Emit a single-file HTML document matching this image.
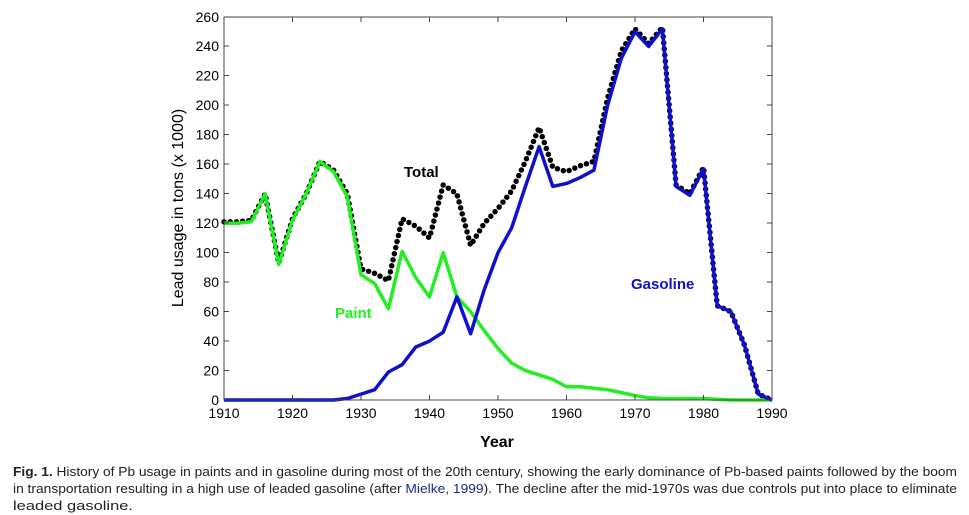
<!DOCTYPE html>
<html><head><meta charset="utf-8"><style>
html,body{margin:0;padding:0;background:#fff;}
svg{display:block;}
</style></head><body>
<svg width="969" height="515" xmlns="http://www.w3.org/2000/svg" font-family="Liberation Sans, Arial, sans-serif">
<rect width="969" height="515" fill="#fff"/>
<g transform="translate(224,400) scale(6.85,-1.473)" fill="none" stroke-linejoin="round">
<polyline vector-effect="non-scaling-stroke" stroke="#000" stroke-width="5.5" stroke-linecap="round" stroke-dasharray="0 6.2" points="0,121 2,121 4,122 6,140 8,93 10,123 12,140 14,162 16,156 18,140 20,89 22,86 24,81 26,123 28,118 30,110 32,146 34,140 36,105 38,120 40,130 42,142 44,162 46,185 48,158 50,155 52,159 54,162 56,205 58,237 60,252 62,242 64,253 66,146 68,140 70,158 72,64 74,60 76,37 78,4 80,0"/>
<polyline vector-effect="non-scaling-stroke" stroke="#22ee22" stroke-width="3.5" points="0,120 2,120 4,121 6,140 8,92 10,122 12,140 14,162 16,155 18,138 20,85 22,79 24,62 26,101 28,83 30,70 32,100 34,70 36,60 38,47 40,35 42,25 44,20 46,17 48,14 50,9 52,9 54,8 56,7 58,5 60,3 62,1.5 64,1 70,1 72,0.5 74,0 80,0"/>
<polyline vector-effect="non-scaling-stroke" stroke="#1010cc" stroke-width="3.5" points="0,0 16,0 18,1 20,4 22,7 24,19 26,24 28,36 30,40 32,46 34,70 36,45 38,75 40,100 42,117 44,145 46,172 48,145 50,147 52,151 54,156 56,200 58,232 60,250 62,240 64,252 66,145 68,139 70,157 72,64 74,60 76,37 78,4 80,0"/>
</g>
<rect x="224" y="17" width="548" height="383" fill="none" stroke="#444" stroke-width="1"/>
<g stroke="#444" stroke-width="1">
<path d="M224,370.5h5M224,341h5M224,311.5h5M224,282h5M224,252.5h5M224,223h5M224,193.5h5M224,164h5M224,134.5h5M224,105h5M224,75.5h5M224,46h5"/>
<path d="M772,370.5h-5M772,341h-5M772,311.5h-5M772,282h-5M772,252.5h-5M772,223h-5M772,193.5h-5M772,164h-5M772,134.5h-5M772,105h-5M772,75.5h-5M772,46h-5"/>
<path d="M292.5,400v-5M361,400v-5M429.5,400v-5M498,400v-5M566.5,400v-5M635,400v-5M703.5,400v-5"/>
<path d="M292.5,17v5M361,17v5M429.5,17v5M498,17v5M566.5,17v5M635,17v5M703.5,17v5"/>
</g>
<g font-size="14" fill="#000" text-anchor="end">
<text x="219" y="405">0</text><text x="219" y="375.5">20</text><text x="219" y="346">40</text><text x="219" y="316.5">60</text><text x="219" y="287">80</text><text x="219" y="257.5">100</text><text x="219" y="228">120</text><text x="219" y="198.5">140</text><text x="219" y="169">160</text><text x="219" y="139.5">180</text><text x="219" y="110">200</text><text x="219" y="80.5">220</text><text x="219" y="51">240</text><text x="219" y="22">260</text>
</g>
<g font-size="14" fill="#000" text-anchor="middle">
<text x="224" y="418">1910</text><text x="292.5" y="418">1920</text><text x="361" y="418">1930</text><text x="429.5" y="418">1940</text><text x="498" y="418">1950</text><text x="566.5" y="418">1960</text><text x="635" y="418">1970</text><text x="703.5" y="418">1980</text><text x="772" y="418">1990</text>
</g>
<text x="497" y="447" font-size="16" font-weight="bold" text-anchor="middle">Year</text>
<text transform="translate(183,208) rotate(-90)" font-size="16" text-anchor="middle">Lead usage in tons (x 1000)</text>
<text x="404" y="177" font-size="15" font-weight="bold" fill="#000">Total</text>
<text x="335" y="318" font-size="15" font-weight="bold" fill="#22ee22">Paint</text>
<text x="631" y="289" font-size="15" font-weight="bold" fill="#1010cc">Gasoline</text>
<g font-family="Liberation Sans, DejaVu Sans, sans-serif" font-size="12.5" fill="#222">
<text x="13" y="476" textLength="944" lengthAdjust="spacingAndGlyphs"><tspan font-weight="bold">Fig. 1.</tspan>  History of Pb usage in paints and in gasoline during most of the 20th century, showing the early dominance of Pb-based paints followed by the boom</text>
<text x="13" y="493" textLength="944" lengthAdjust="spacingAndGlyphs">in transportation resulting in a high use of leaded gasoline (after <tspan fill="#1a2a80">Mielke, 1999</tspan>). The decline after the mid-1970s was due controls put into place to eliminate</text>
<text x="13" y="510" font-size="13" textLength="120" lengthAdjust="spacingAndGlyphs">leaded gasoline.</text>
</g>
</svg>
</body></html>
